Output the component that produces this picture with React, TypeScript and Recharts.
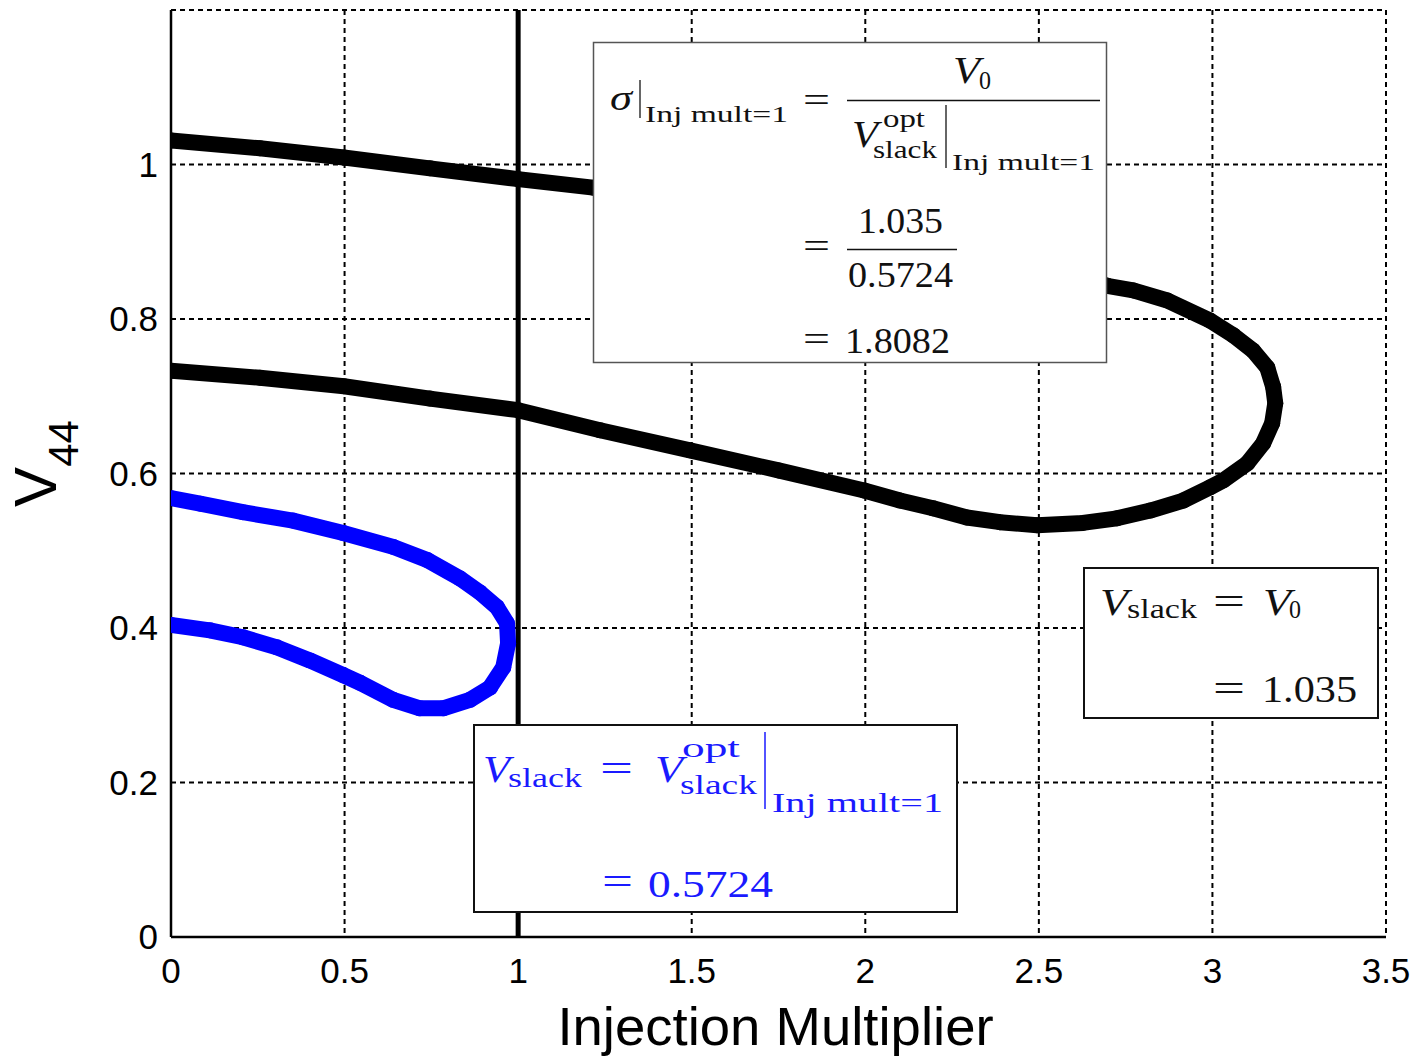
import React from "react";
import { LineChart, Line, XAxis, YAxis, CartesianGrid, ReferenceLine } from "recharts";

// tick values
const xTicks = [0, 0.5, 1, 1.5, 2, 2.5, 3, 3.5];
const yTicks = [0, 0.2, 0.4, 0.6, 0.8, 1];

// black curve (V_slack = V0), traced upper branch -> nose -> lower branch
const blackX = [
    0, 0.256, 0.498, 0.746, 1.0, 1.216, 1.5, 1.75, 2.0, 2.25, 2.5, 2.697, 2.772, 2.87, 2.993,
    3.06, 3.117, 3.158, 3.175, 3.181, 3.172, 3.146, 3.1, 3.031, 2.993, 2.916, 2.821, 2.725,
    2.627, 2.495, 2.388, 2.293, 2.195, 2.1, 1.997, 1.75, 1.495, 1.236, 1.0, 0.746, 0.498, 0.256, 0,
];
const blackY = [
    1.031, 1.021, 1.009, 0.995, 0.981, 0.97, 0.955, 0.94, 0.92, 0.895, 0.868, 0.843, 0.837, 0.824,
    0.798, 0.779, 0.759, 0.737, 0.712, 0.691, 0.665, 0.639, 0.613, 0.591, 0.582, 0.565, 0.552,
    0.542, 0.536, 0.533, 0.537, 0.543, 0.555, 0.565, 0.578, 0.604, 0.63, 0.656, 0.682, 0.697,
    0.713, 0.724, 0.733,
];

// blue curve (V_slack = optimal slack at Inj mult = 1)
const blueX = [
    0, 0.084, 0.207, 0.351, 0.496, 0.64, 0.738, 0.833, 0.89, 0.939, 0.968, 0.971, 0.957, 0.919,
    0.861, 0.784, 0.717, 0.64, 0.545, 0.496, 0.4, 0.305, 0.207, 0.112, 0,
];
const blueY = [
    0.568, 0.561, 0.55, 0.539, 0.523, 0.505, 0.488, 0.464, 0.446, 0.427, 0.406, 0.38, 0.349, 0.323,
    0.307, 0.296, 0.296, 0.307, 0.329, 0.339, 0.358, 0.375, 0.388, 0.397, 0.404,
];

const blackCurve = blackX.map((x, i) => ({ x, y: blackY[i] }));
const blueCurve = blueX.map((x, i) => ({ x, y: blueY[i] }));

const SANS = "'Liberation Sans', Arial, sans-serif";
const SERIF = "'Liberation Serif', 'Times New Roman', serif";

// one piece of "LaTeX" text, squeezed to the measured width
function T({ x, y, w, size, italic, fill = "#111", children }: any) {
    return (
        <text
            x={x}
            y={y}
            fontSize={size}
            fontFamily={SERIF}
            fontStyle={italic ? "italic" : "normal"}
            fill={fill}
            textLength={w}
            lengthAdjust="spacingAndGlyphs"
        >
            {children}
        </text>
    );
}

function Annotations() {
    const blue = "#1a1aff";
    return (
        <svg
            width={1421}
            height={1057}
            style={{ position: "absolute", left: 0, top: 0, pointerEvents: "none" }}
        >
            {/* sigma box */}
            <rect x={593.5} y={42.5} width={513} height={320} fill="#fff" stroke="#555" strokeWidth={1.5} />
            <T x={610} y={110} w={22} size={36} italic>σ</T>
            <line x1={640} y1={80} x2={640} y2={118} stroke="#333" strokeWidth={1.5} />
            <T x={645} y={122} w={143} size={24}>Inj mult=1</T>
            <T x={803} y={112} w={27} size={36}>=</T>
            <line x1={847} y1={100.5} x2={1100} y2={100.5} stroke="#111" strokeWidth={1.6} />
            <T x={953} y={83} w={27} size={37} italic>V</T>
            <T x={979} y={89} w={12} size={25}>0</T>
            <T x={852} y={147} w={26} size={37} italic>V</T>
            <T x={883} y={127} w={42} size={25}>opt</T>
            <T x={873} y={158} w={64} size={25}>slack</T>
            <line x1={946} y1={105} x2={946} y2={168} stroke="#333" strokeWidth={1.5} />
            <T x={952} y={170} w={143} size={24}>Inj mult=1</T>
            <T x={803} y={258} w={27} size={36}>=</T>
            <line x1={847} y1={249.5} x2={957} y2={249.5} stroke="#111" strokeWidth={1.6} />
            <T x={858} y={233} w={85} size={36}>1.035</T>
            <T x={848} y={287} w={105} size={36}>0.5724</T>
            <T x={803} y={351} w={27} size={36}>=</T>
            <T x={845} y={353} w={105} size={36}>1.8082</T>

            {/* V_slack = V0 box */}
            <rect x={1084} y={568} width={294} height={150} fill="#fff" stroke="#111" strokeWidth={2} />
            <T x={1100} y={615} w={28} size={37} italic>V</T>
            <T x={1127} y={618} w={70} size={27}>slack</T>
            <T x={1213} y={614} w={32} size={37}>=</T>
            <T x={1263} y={615} w={28} size={37} italic>V</T>
            <T x={1289} y={618} w={12} size={26}>0</T>
            <T x={1213} y={701} w={32} size={37}>=</T>
            <T x={1262} y={702} w={95} size={37}>1.035</T>

            {/* blue box */}
            <rect x={474} y={725} width={483} height={187} fill="#fff" stroke="#111" strokeWidth={2} />
            <T x={483} y={782} w={27} size={37} italic fill={blue}>V</T>
            <T x={508} y={787} w={74} size={27} fill={blue}>slack</T>
            <T x={600} y={781} w={33} size={37} fill={blue}>=</T>
            <T x={655} y={782} w={28} size={37} italic fill={blue}>V</T>
            <T x={682} y={757} w={58} size={27} fill={blue}>opt</T>
            <T x={680} y={794} w={77} size={27} fill={blue}>slack</T>
            <line x1={765} y1={732} x2={765} y2={809} stroke={blue} strokeWidth={1.5} />
            <T x={772} y={812} w={171} size={27} fill={blue}>Inj mult=1</T>
            <T x={602} y={894} w={31} size={37} fill={blue}>=</T>
            <T x={648} y={897} w={125} size={37} fill={blue}>0.5724</T>
        </svg>
    );
}

export default function App() {
    return (
        <div style={{ position: "relative", width: 1421, height: 1057, background: "#fff" }}>
            <style>{`body{margin:0;}`}</style>

            <LineChart
                width={1421}
                height={1057}
                margin={{ top: 10, right: 35, left: 0, bottom: 0 }}
            >
                <CartesianGrid stroke="#000" strokeDasharray="5 4" strokeWidth={2} />

                <XAxis
                    type="number"
                    dataKey="x"
                    domain={[0, 3.5]}
                    ticks={xTicks}
                    height={120}
                    tickSize={0}
                    tickMargin={21}
                    tickLine={false}
                    axisLine={{ stroke: "#000", strokeWidth: 2.5 }}
                    tick={{ fill: "#000", fontSize: 35, fontFamily: SANS }}
                    allowDataOverflow
                    label={{
                        content: (props: any) => {
                            const vb = props.viewBox || {};
                            return (
                                <text
                                    x={vb.x + vb.width / 2 - 3}
                                    y={vb.y + 108}
                                    textAnchor="middle"
                                    fontSize={54.5}
                                    fontFamily={SANS}
                                    fill="#000"
                                >
                                    Injection Multiplier
                                </text>
                            );
                        },
                    }}
                />

                <YAxis
                    type="number"
                    dataKey="y"
                    domain={[0, 1.2]}
                    ticks={yTicks}
                    width={171}
                    tickSize={0}
                    tickMargin={13}
                    tickLine={false}
                    axisLine={{ stroke: "#000", strokeWidth: 2.5 }}
                    tick={{ fill: "#000", fontSize: 35, fontFamily: SANS }}
                    allowDataOverflow
                    label={{
                        content: (props: any) => {
                            const vb = props.viewBox || {};
                            const cy = vb.y + vb.height / 2 - 10;
                            return (
                                <text
                                    x={56}
                                    y={cy}
                                    transform={`rotate(-90, 56, ${cy})`}
                                    textAnchor="middle"
                                    fontFamily={SANS}
                                    fill="#000"
                                >
                                    <tspan fontSize={60}>V</tspan>
                                    <tspan fontSize={42} dy={22}>44</tspan>
                                </text>
                            );
                        },
                    }}
                />

                <ReferenceLine
                    x={1}
                    stroke="#000"
                    strokeWidth={5}
                    style={{ strokeWidth: 5 }}
                    ifOverflow="extendDomain"
                />

                {/* base case */}
                <Line
                    data={blackCurve}
                    dataKey="y"
                    type="linear"
                    stroke="#000"
                    strokeWidth={16}
                    strokeLinejoin="round"
                    strokeLinecap="round"
                    dot={{ r: 8, fill: "#000", stroke: "#000", strokeWidth: 0 }}
                    isAnimationActive={false}
                />

                {/* optimal slack voltage */}
                <Line
                    data={blueCurve}
                    dataKey="y"
                    type="linear"
                    stroke="#0000ff"
                    strokeWidth={16}
                    strokeLinejoin="round"
                    strokeLinecap="round"
                    dot={{ r: 8, fill: "#0000ff", stroke: "#0000ff", strokeWidth: 0 }}
                    isAnimationActive={false}
                />
            </LineChart>

            <Annotations />
        </div>
    );
}
